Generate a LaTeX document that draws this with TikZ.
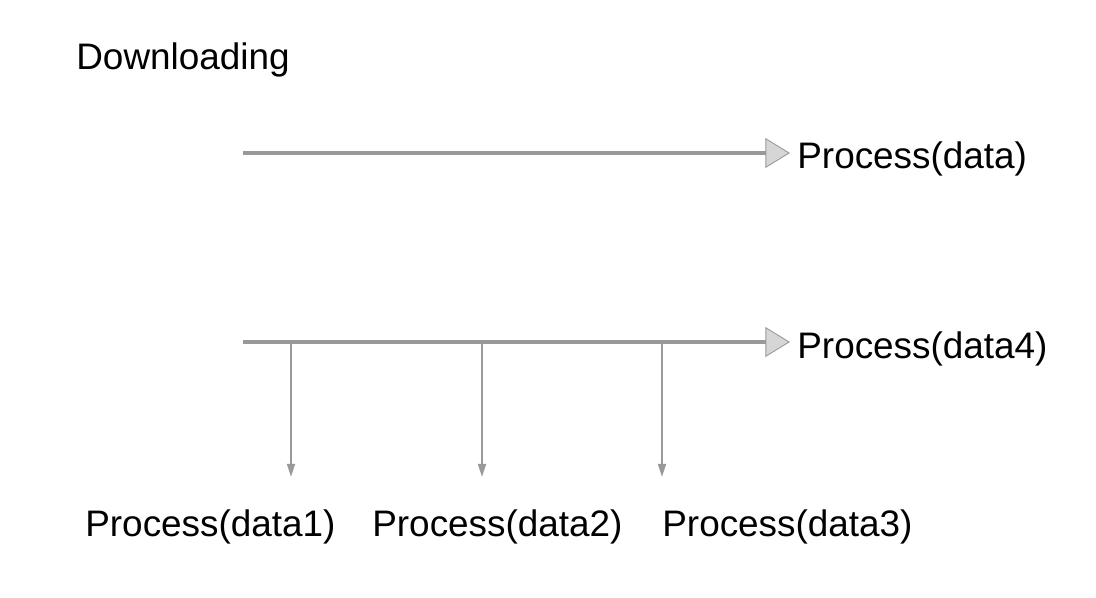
\documentclass[tikz,border=0pt]{standalone}
\usepackage{fontspec}
\setmainfont{Liberation Sans}
\usetikzlibrary{arrows.meta}
\definecolor{wire}{RGB}{153,153,153}
\definecolor{headfill}{RGB}{214,214,214}
\tikzstyle{proc} = [anchor=base west, inner sep=0pt,
font=\fontsize{21}{25}\selectfont]
\tikzstyle{mainline} = [draw=wire, line width=2.1pt,
-{Triangle[length=14pt,width=17pt,fill=headfill,line width=0.5pt]}]
\tikzstyle{branch} = [draw=wire, line width=1.3pt,
-{Triangle[length=7.5pt,width=4.5pt,fill=wire]}]
\begin{document}
\begin{tikzpicture}[x=0.02cm, y=-0.02cm]
\useasboundingbox (0,0) rectangle (1096,598);

% Place nodes
\node [proc] (title) at (76,70) {Downloading};
\node [proc] (whole) at (797,169) {Process(data)};
\node [proc] (last) at (797,358) {Process(data4)};
\node [proc] (part1) at (85,536) {Process(data1)};
\node [proc] (part2) at (372,536) {Process(data2)};
\node [proc] (part3) at (662,536) {Process(data3)};
\coordinate (start1) at (243,153);
\coordinate (start2) at (243,342);
\coordinate (fork1) at (291,342);
\coordinate (fork2) at (482,342);
\coordinate (fork3) at (662,342);
\coordinate (tip1) at (291,477);
\coordinate (tip2) at (482,477);
\coordinate (tip3) at (662,477);
% Draw edges
\path [mainline, shorten >=4pt] (start1) -- (start1 -| whole.west);
\path [mainline, shorten >=4pt] (start2) -- (start2 -| last.west);
\path [branch] (fork1) -- (tip1);
\path [branch] (fork2) -- (tip2);
\path [branch] (fork3) -- (tip3);
\end{tikzpicture}
\end{document}
